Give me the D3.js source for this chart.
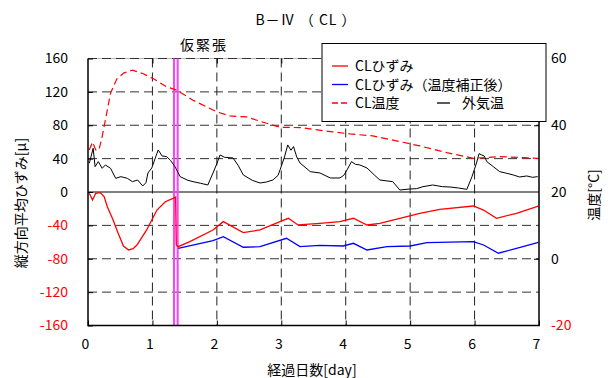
<!DOCTYPE html>
<html>
<head>
<meta charset="utf-8">
<script src="https://cdn.jsdelivr.net/npm/d3@7"></script>
<style>
body { margin: 0; background: #fff; }
text { font-family: "Noto Sans CJK JP", "Noto Sans", sans-serif; }
</style>
</head>
<body>
<svg id="chart" width="615" height="378"></svg>
<script>
// CLひずみ (left axis, μ)
var strainDays = [0.02, 0.07, 0.12, 0.19, 0.25, 0.30, 0.39, 0.46, 0.55, 0.63, 0.70, 0.76, 0.91, 1.07, 1.20, 1.32, 1.36, 1.37, 1.40, 1.58, 1.94, 2.10, 2.41, 2.67, 2.98, 3.11, 3.26, 3.60, 3.91, 4.12, 4.33, 4.53, 4.84, 5.15, 5.46, 5.98, 6.14, 6.34, 6.65, 6.99];
var strainVals = [-1.6, -9.6, -1.6, -0.8, -5.6, -17.6, -33.5, -48, -64.7, -69.5, -67.9, -63.5, -45.5, -21.6, -11.6, -7.6, -6, -63.5, -65.5, -59.5, -45.5, -35.5, -48.7, -45.5, -35.5, -31.5, -39.5, -37.5, -35.5, -31.5, -39.5, -37.5, -31.5, -25.5, -20.7, -16.8, -21.6, -31.5, -25.5, -16.8];
// CLひずみ（温度補正後）
var corrDays = [1.40, 1.94, 2.10, 2.41, 2.67, 3.08, 3.29, 3.60, 3.96, 4.12, 4.33, 4.64, 5.00, 5.26, 5.98, 6.14, 6.37, 6.65, 6.99];
var corrVals = [-67.5, -58.3, -53.5, -66.2, -65.5, -55.5, -65.5, -64, -64.7, -61.5, -69.5, -65.5, -64.7, -60.7, -59.5, -63.5, -73.4, -67.5, -60.3];
// CL温度 (right axis, °C)
var clTempDays = [0.02, 0.07, 0.12, 0.17, 0.22, 0.27, 0.35, 0.45, 0.56, 0.69, 0.85, 1.01, 1.22, 1.38, 1.63, 2.0, 2.20, 2.46, 2.77, 2.98, 3.29, 3.80, 4.07, 4.42, 4.84, 5.15, 5.57, 5.98, 6.39, 6.98];
var clTempVals = [32.6, 35, 32.6, 32.6, 36.6, 41.6, 49.6, 54, 55.7, 56.5, 55.5, 54, 51.5, 50.5, 47.5, 44, 42.8, 42.5, 40.6, 39.4, 39.3, 38, 37.4, 36.8, 35.1, 33.8, 31.8, 30.1, 30.6, 30.1];
// 外気温
var airDays = [0.02, 0.08, 0.11, 0.16, 0.22, 0.27, 0.35, 0.43, 0.51, 0.61, 0.69, 0.77, 0.85, 0.90, 0.93, 0.99, 1.05, 1.09, 1.15, 1.22, 1.28, 1.35, 1.43, 1.55, 1.63, 1.75, 1.86, 1.94, 2.00, 2.05, 2.12, 2.25, 2.33, 2.41, 2.55, 2.67, 2.77, 2.87, 2.95, 2.98, 3.05, 3.10, 3.15, 3.19, 3.24, 3.29, 3.45, 3.60, 3.76, 3.91, 3.97, 4.02, 4.09, 4.15, 4.22, 4.33, 4.45, 4.53, 4.73, 4.84, 5.00, 5.10, 5.20, 5.35, 5.50, 5.62, 5.75, 5.88, 5.96, 6.03, 6.07, 6.11, 6.15, 6.19, 6.29, 6.39, 6.50, 6.60, 6.70, 6.81, 6.90, 6.98];
var airVals = [28.6, 33.1, 27.6, 29.1, 27.1, 28.1, 27.1, 24.1, 24.6, 24.1, 23.1, 23.6, 21.8, 22.8, 25.7, 27.2, 30.5, 32.6, 30.8, 30.6, 29.5, 27.6, 24.6, 23.5, 23.1, 22.6, 22.1, 25.7, 28.5, 31.1, 30.4, 30.2, 28, 25.1, 23.5, 22.7, 23.0, 23.6, 25.0, 26.6, 30.5, 34.1, 32.5, 33.6, 30.5, 28.7, 26.1, 25.7, 24.2, 24.2, 25.0, 26.6, 29.1, 28.3, 28.1, 27.2, 25.0, 23.6, 23.1, 20.6, 20.9, 21.0, 21.6, 22.1, 21.6, 21.5, 21.2, 20.8, 24.6, 28.7, 31.5, 31.1, 30.8, 29.1, 27.6, 26.1, 25.6, 25.1, 24.5, 24.8, 24.4, 24.6];
// 仮緊張
var prestressDays = [1.335, 1.392];

var dayTicks = [0, 1, 2, 3, 4, 5, 6, 7];
var leftTicks = [160, 120, 80, 40, 0, -40, -80, -120, -160];
var rightTicks = [60, 40, 20, 0, -20];

var plotL = 88, plotR = 539, plotT = 58.5, plotB = 325.5;

var svg = d3.select("#chart");

var x = d3.scaleLinear().domain([0, 7]).range([plotL, plotR]);
var yL = d3.scaleLinear().domain([-160, 160]).range([plotB, plotT]);
var yR = d3.scaleLinear().domain([-20, 60]).range([plotB, plotT]);

// grid
var grid = svg.append("g");
grid.append("line")
	.attr("x1", plotL).attr("x2", plotR)
	.attr("y1", plotT).attr("y2", plotT)
	.attr("stroke", "#bbb");
grid.selectAll(".hg")
	.data(leftTicks.filter(function (d) { return d != 0 && d != -160; }))
	.enter()
	.append("line")
	.attr("x1", plotL).attr("x2", plotR)
	.attr("y1", function (d) { return yL(d); })
	.attr("y2", function (d) { return yL(d); })
	.attr("stroke", "#333")
	.attr("stroke-dasharray", "9,5");
grid.selectAll(".vg")
	.data(dayTicks.slice(1, 7))
	.enter()
	.append("line")
	.attr("y1", plotT).attr("y2", plotB)
	.attr("x1", function (d) { return x(d); })
	.attr("x2", function (d) { return x(d); })
	.attr("stroke", "#222")
	.attr("stroke-dasharray", "9,5");

// zero line
svg.append("line")
	.attr("x1", plotL).attr("x2", plotR)
	.attr("y1", yL(0)).attr("y2", yL(0))
	.attr("stroke", "#000");

// 仮緊張 lines
svg.selectAll(".ps")
	.data(prestressDays)
	.enter()
	.append("line")
	.attr("x1", function (d) { return x(d); })
	.attr("x2", function (d) { return x(d); })
	.attr("y1", plotT).attr("y2", plotB)
	.attr("stroke", "#ff40ff")
	.attr("stroke-width", 2);

function series(days, vals, yScale) {
	return d3.line()
		.x(function (d, i) { return x(days[i]); })
		.y(function (d) { return yScale(d); })(vals);
}

svg.append("path")
	.attr("d", series(airDays, airVals, yR))
	.attr("fill", "none").attr("stroke", "#000").attr("stroke-width", 1);
svg.append("path")
	.attr("d", series(clTempDays, clTempVals, yR))
	.attr("fill", "none").attr("stroke", "#ff0000").attr("stroke-width", 1.2)
	.attr("stroke-dasharray", "7,4");
svg.append("path")
	.attr("d", series(strainDays, strainVals, yL))
	.attr("fill", "none").attr("stroke", "#ff0000").attr("stroke-width", 1.3);
svg.append("path")
	.attr("d", series(corrDays, corrVals, yL))
	.attr("fill", "none").attr("stroke", "#0000ff").attr("stroke-width", 1.3);

// frame
svg.append("path")
	.attr("d", "M" + plotL + "," + plotT + "V" + plotB + "H" + plotR + "V" + plotT)
	.attr("fill", "none").attr("stroke", "#000").attr("stroke-width", 1.5);

// axes
var xAxisB = d3.axisBottom(x).tickValues(dayTicks).tickSizeInner(-5).tickSizeOuter(0).tickPadding(14)
	.tickFormat(d3.format("d"));
var gx = svg.append("g")
	.attr("transform", "translate(0," + plotB + ")")
	.call(xAxisB);
gx.select(".domain").remove();
gx.selectAll("text").attr("font-size", 14).attr("dx", -3).attr("fill", "#000");

var xAxisT = d3.axisTop(x).tickValues(dayTicks.slice(1, 7)).tickSizeInner(-5).tickSizeOuter(0).tickFormat("");
var gxt = svg.append("g")
	.attr("transform", "translate(0," + plotT + ")")
	.call(xAxisT);
gxt.select(".domain").remove();

var yAxisL = d3.axisLeft(yL).tickValues(leftTicks).tickSizeInner(-5).tickSizeOuter(0).tickPadding(20)
	.tickFormat(function (d) { return d < 0 ? "-" + (-d) : d; });
var gl = svg.append("g")
	.attr("transform", "translate(" + plotL + ",0)")
	.call(yAxisL);
gl.select(".domain").remove();
gl.selectAll("text").attr("font-size", 14)
	.attr("fill", function (d) { return d < 0 ? "#ff0000" : "#000"; });

var yAxisR = d3.axisRight(yR).tickValues(rightTicks).tickSizeInner(-5).tickSizeOuter(0).tickPadding(12)
	.tickFormat(function (d) { return d < 0 ? "-" + (-d) : d; });
var gr = svg.append("g")
	.attr("transform", "translate(" + plotR + ",0)")
	.call(yAxisR);
gr.select(".domain").remove();
gr.selectAll("text").attr("font-size", 14)
	.attr("fill", function (d) { return d < 0 ? "#ff0000" : "#000"; });
gr.selectAll(".tick line").filter(function (d) { return d == 20 || d == 60 || d == -20; }).remove();

// titles
svg.append("text")
	.attr("x", 306).attr("y", 25)
	.attr("text-anchor", "middle")
	.attr("font-size", 14)
	.attr("letter-spacing", 1)
	.text("B－Ⅳ （ CL ）");
svg.append("text")
	.attr("x", 204).attr("y", 50)
	.attr("text-anchor", "middle")
	.attr("font-size", 14)
	.attr("letter-spacing", 2)
	.text("仮緊張");
svg.append("text")
	.attr("x", 312).attr("y", 375)
	.attr("text-anchor", "middle")
	.attr("font-size", 14)
	.text("経過日数[day]");
svg.append("text")
	.attr("transform", "translate(26,203) rotate(-90)")
	.attr("text-anchor", "middle")
	.attr("font-size", 14)
	.text("縦方向平均ひずみ[μ]");
svg.append("text")
	.attr("transform", "translate(599,195) rotate(-90)")
	.attr("text-anchor", "middle")
	.attr("font-size", 14)
	.text("温度[°C]");

// legend
var lg = svg.append("g");
lg.append("rect")
	.attr("x", 322).attr("y", 43.5)
	.attr("width", 224).attr("height", 78)
	.attr("fill", "#fff").attr("stroke", "#000");
var legendRows = [
	{ label: "CLひずみ", color: "#ff0000", dash: null, y: 66 },
	{ label: "CLひずみ（温度補正後）", color: "#0000ff", dash: null, y: 84.5 },
	{ label: "CL温度", color: "#ff0000", dash: "6,3", y: 103 }
];
legendRows.forEach(function (r) {
	lg.append("line")
		.attr("x1", 332).attr("x2", 348)
		.attr("y1", r.y).attr("y2", r.y)
		.attr("stroke", r.color).attr("stroke-width", 1.3)
		.attr("stroke-dasharray", r.dash);
	lg.append("text")
		.attr("x", 355).attr("y", r.y + 5)
		.attr("font-size", 14)
		.text(r.label);
});
lg.append("line")
	.attr("x1", 437).attr("x2", 450)
	.attr("y1", 103).attr("y2", 103)
	.attr("stroke", "#000").attr("stroke-width", 1.3);
lg.append("text")
	.attr("x", 462).attr("y", 108)
	.attr("font-size", 14)
	.text("外気温");
</script>
</body>
</html>
